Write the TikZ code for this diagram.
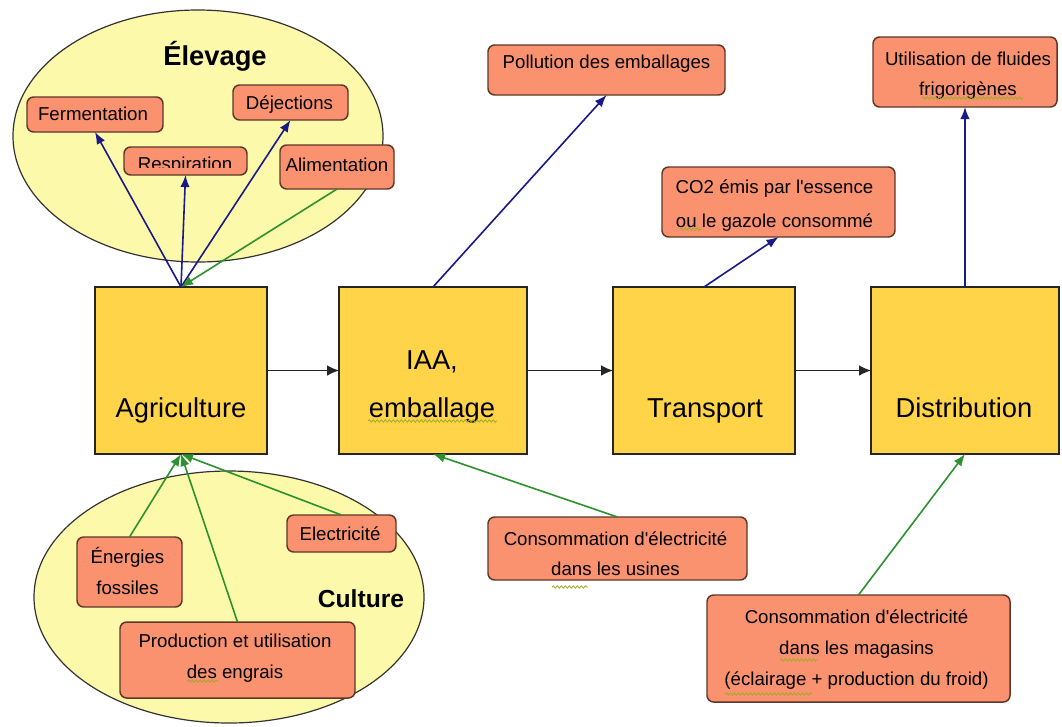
\documentclass[tikz,border=0pt]{standalone}
\usepackage{fontspec}
\setmainfont{Liberation Sans}[Ligatures=TeXOff]
\usetikzlibrary{arrows.meta,shapes.geometric,decorations.pathmorphing}

\definecolor{ellfill}{RGB}{252,250,170}
\definecolor{yelbox}{RGB}{255,212,72}
\definecolor{salm}{RGB}{250,146,112}
\definecolor{salmline}{RGB}{95,55,40}
\definecolor{navyline}{RGB}{25,25,135}
\definecolor{grline}{RGB}{45,145,45}
\definecolor{squigc}{RGB}{160,170,40}

\begin{document}
\begin{tikzpicture}[x=0.75pt,y=-0.75pt,
 wh/.style 2 args={minimum width=#1*0.75pt, minimum height=#2*0.75pt},
 ell/.style={ellipse, draw=black!80, fill=ellfill, line width=0.9pt, inner sep=0pt},
 ybox/.style={rectangle, draw=black!85, fill=yelbox, line width=1pt, inner sep=0pt, outer sep=0pt},
 sbox/.style={rectangle, rounded corners=5pt, draw=salmline, fill=salm, line width=1.1pt, inner sep=0pt, outer sep=0pt},
 stxt/.style={anchor=base, align=center, inner sep=0pt, font=\fontsize{14}{23.25}\selectfont},
 btxt/.style={anchor=base, align=center, inner sep=0pt, font=\fontsize{20.5}{36}\selectfont},
 ttl/.style={anchor=base, inner sep=0pt, font=\bfseries\fontsize{20.5}{24}\selectfont},
 barrow/.style={draw=navyline, line width=1.2pt, -{Latex[length=9pt,width=7pt]}},
 garrow/.style={draw=grline, line width=1.2pt, -{Latex[length=9pt,width=7pt]}},
 karrow/.style={draw=black!85, line width=0.9pt, -{Latex[length=9pt,width=8pt]}},
 squig/.style={draw=squigc, line width=0.6pt, decorate, decoration={snake, segment length=3pt, amplitude=0.9pt}}
]
\fill[white] (0,0) rectangle (1062,726);
\useasboundingbox (0,0) rectangle (1062,726);

% ellipses
\node[ell, wh={370}{252}] (elev) at (198,136) {};
\node[ell, wh={390}{252}] (cult) at (229,597) {};
\node[ttl] (elevt) at (215,65) {Élevage};
\node[ttl, font=\bfseries\fontsize{18.5}{22}\selectfont] (cultt) at (361,607) {Culture};

% main boxes
\node[ybox, wh={172}{167}] (agri) at (181,370.5) {};
\node[ybox, wh={188}{167}] (iaa) at (433,370.5) {};
\node[ybox, wh={182}{167}] (trans) at (704,370.5) {};
\node[ybox, wh={188}{167}] (dist) at (965,370.5) {};
\node[btxt] (agrit) at (181,417) {Agriculture};
\node[btxt] (iaat) at (432,417) {IAA,\\emballage};
\node[btxt] (transt) at (705,417) {Transport};
\node[btxt] (distt) at (964,417) {Distribution};

% salmon boxes
\node[sbox, wh={136}{35}] (ferm) at (95,114.5) {};
\node[stxt] (fermt) at (93,120) {Fermentation};
\node[sbox, wh={123}{28}] (resp) at (185.5,161) {};
\begin{scope}
\clip (124,147) rectangle (247,167);
\node[stxt] (respt) at (185,170) {Respiration};
\end{scope}
\node[sbox, wh={115}{35}] (dej) at (290.5,102.5) {};
\node[stxt] (dejt) at (289.5,109) {Déjections};
\node[sbox, wh={114}{44}] (alim) at (337,167) {};
\node[stxt] (alimt) at (337,171) {Alimentation};

\node[sbox, wh={237}{50}] (poll) at (606.5,70) {};
\node[stxt] (pollt) at (606.5,68) {Pollution des emballages};
\node[sbox, wh={233}{70}] (co2) at (778.5,202) {};
\node[stxt, font=\fontsize{14}{25.5}\selectfont] (co2t) at (774.5,227) {CO2 émis par l'essence\\ou le gazole consommé};
\node[sbox, wh={184}{70}] (util) at (965,72) {};
\node[stxt, font=\fontsize{14}{22.5}\selectfont] (utilt) at (968,95) {Utilisation de fluides\\frigorigènes};

\node[sbox, wh={259}{63}] (usin) at (617.5,548.5) {};
\node[stxt, font=\fontsize{14}{22.5}\selectfont] (usint) at (615.5,575) {Consommation d'électricité\\dans les usines};
\node[sbox, wh={303}{107}] (mag) at (858.5,648.5) {};
\node[stxt] (magt) at (856.5,685) {Consommation d'électricité\\dans les magasins\\(éclairage + production du froid)};

\node[sbox, wh={105}{70}] (ener) at (129.5,572) {};
\node[stxt] (enert) at (127.5,594) {Énergies\\fossiles};
\node[sbox, wh={109}{37}] (elec) at (341.5,533.5) {};
\node[stxt] (elect) at (340,540) {Electricité};
\node[sbox, wh={235}{76}] (prod) at (237.5,660) {};
\node[stxt] (prodt) at (235,678) {Production et utilisation\\des engrais};

% connectors
\draw[barrow] (agri.north) -- (ferm.south);
\draw[barrow] (agri.north) -- (resp.south);
\draw[barrow] (agri.north) -- (dej.south);
\draw[garrow] (alim.south) -- (agri.north);
\draw[barrow] (iaa.north) -- (poll.south);
\draw[barrow] (trans.north) -- (co2.south);
\draw[barrow] (dist.north) -- (util.south);
\draw[garrow] (ener.north) -- (agri.south);
\draw[garrow] (prod.north) -- (agri.south);
\draw[garrow] (elec.north) -- (agri.south);
\draw[garrow] (usin.north) -- (iaa.south);
\draw[garrow] (mag.north) -- (dist.south);
\draw[karrow] (agri.east) -- (iaa.west);
\draw[karrow] (iaa.east) -- (trans.west);
\draw[karrow] (trans.east) -- (dist.west);

% spell-check squiggles
\draw[squig] (368,421) -- (497,421);
\draw[squig] (187,681) -- (218,681);
\draw[squig] (552,587) -- (588,587);
\draw[squig] (780,660) -- (818,660);
\draw[squig] (725,694) -- (812,694);
\draw[squig] (680,229) -- (702,229);
\draw[squig] (922,98) -- (1023,98);
\end{tikzpicture}
\end{document}
